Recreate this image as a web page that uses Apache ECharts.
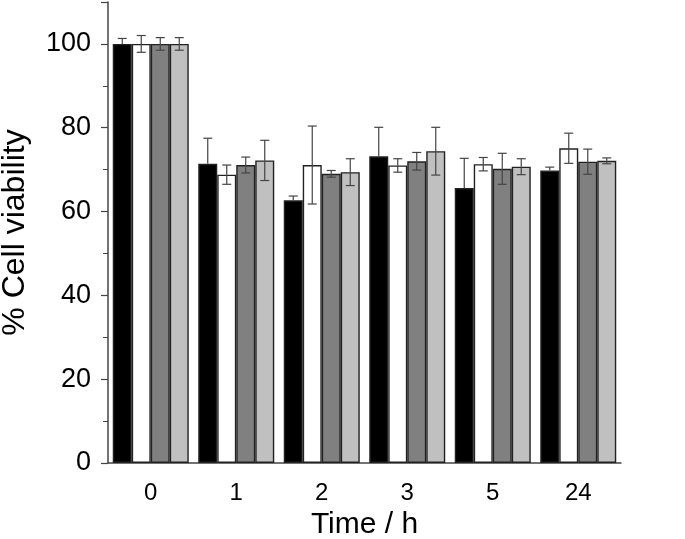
<!DOCTYPE html>
<html>
<head>
<meta charset="utf-8">
<script src="https://cdn.jsdelivr.net/npm/echarts@6/dist/echarts.min.js"></script>
<style>html,body{margin:0;padding:0;background:#fff}#c{width:685px;height:539px}</style>
</head>
<body>
<div id="c"></div>
<script>
var categories = ['0', '1', '2', '3', '5', '24'];
var s1 = [100, 71.4, 62.7, 73.2, 65.6, 69.8];
var s1err = [1.3, 6.1, 1.0, 6.9, 7.1, 0.8];
var s2 = [100, 68.8, 71.1, 71.0, 71.3, 75.1];
var s2err = [2.0, 2.3, 9.3, 1.6, 1.6, 3.6];
var s3 = [100, 71.1, 69.0, 72.0, 70.2, 71.9];
var s3err = [1.5, 1.9, 0.8, 2.1, 3.7, 3.0];
var s4 = [100, 72.2, 69.4, 74.4, 70.7, 72.1];
var s4err = [1.5, 4.8, 3.2, 5.7, 1.9, 0.7];

var vals = [s1, s2, s3, s4];
var errs = [s1err, s2err, s3err, s4err];
var colors = ['#000000', '#ffffff', '#808080', '#c0c0c0'];
var BW = 19;

var series = [];
vals.forEach(function (v, i) {
  series.push({
    type: 'bar', data: v, barWidth: BW, barGap: '0%',
    itemStyle: { color: colors[i], borderColor: '#222', borderWidth: 1.4 },
    z: 2
  });
});
vals.forEach(function (v, i) {
  var data = v.map(function (val, k) { return [k, val, errs[i][k]]; });
  series.push({
    type: 'custom', data: data, z: 3,
    renderItem: function (params, api) {
      var k = api.value(0), val = api.value(1), e = api.value(2);
      var top = api.coord([k, val + e]);
      var mid = api.coord([k, val]);
      var bot = api.coord([k, val - e]);
      var x = top[0] + (i - 1.5) * BW;
      var hw = 4.5;
      var st = { stroke: '#444', lineWidth: 1.2 };
      var children = [
        { type: 'line', shape: { x1: x, y1: top[1], x2: x, y2: mid[1] }, style: st },
        { type: 'line', shape: { x1: x - hw, y1: top[1], x2: x + hw, y2: top[1] }, style: st }
      ];
      if (i !== 0) {
        children.push({ type: 'line', shape: { x1: x, y1: mid[1], x2: x, y2: bot[1] }, style: st });
        children.push({ type: 'line', shape: { x1: x - hw, y1: bot[1], x2: x + hw, y2: bot[1] }, style: st });
      }
      return { type: 'group', children: children };
    }
  });
});

var chart = echarts.init(document.getElementById('c'));
chart.setOption({
  animation: false,
  textStyle: { fontFamily: 'Liberation Sans, Arial, sans-serif' },
  grid: { left: 108, right: 64, top: 2, bottom: 76, outerBoundsMode: 'none', containLabel: false },
  xAxis: {
    type: 'category', data: categories,
    name: 'Time / h', nameLocation: 'middle', nameGap: 44,
    nameTextStyle: { fontSize: 30, color: '#000' },
    axisLine: { lineStyle: { color: '#444', width: 1.5 } },
    axisTick: { show: false },
    axisLabel: { fontSize: 24, color: '#000', margin: 18 }
  },
  yAxis: {
    type: 'value', min: 0, max: 110, interval: 20,
    name: '% Cell viability', nameLocation: 'middle', nameGap: 77,
    nameTextStyle: { fontSize: 32, color: '#000' },
    splitLine: { show: false },
    axisLine: { show: true, lineStyle: { color: '#444', width: 1.5 } },
    axisTick: { show: true, length: 7, lineStyle: { color: '#444', width: 1.2 } },
    minorTick: { show: true, splitNumber: 2, length: 5, lineStyle: { color: '#444', width: 1 } },
    axisLabel: { fontSize: 27, color: '#000', margin: 17, showMaxLabel: false }
  },
  series: series
});
</script>
</body>
</html>
